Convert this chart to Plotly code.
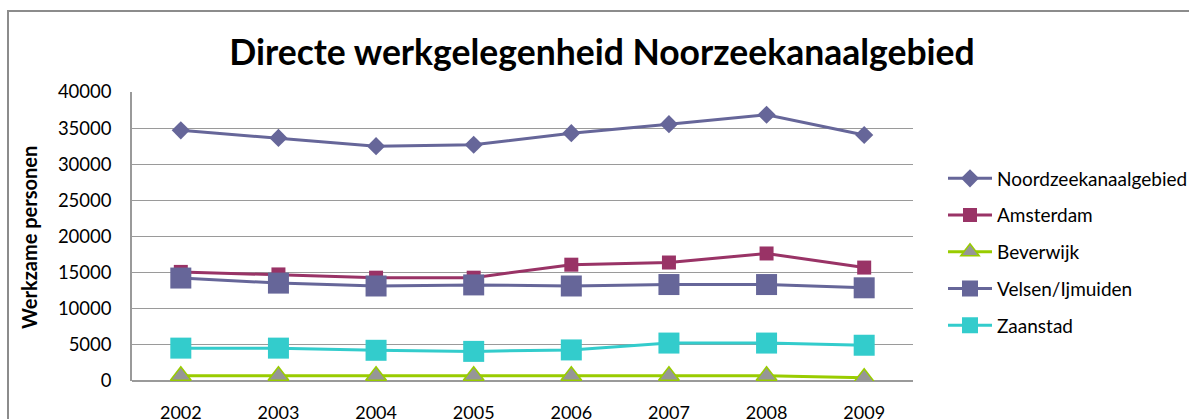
import plotly.graph_objects as go

years = ["2002", "2003", "2004", "2005", "2006", "2007", "2008", "2009"]
noordzee = [34700, 33650, 32500, 32700, 34300, 35550, 36850, 34050]
amsterdam = [15100, 14750, 14300, 14300, 16100, 16400, 17650, 15700]
beverwijk = [720, 720, 720, 720, 720, 720, 720, 460]
velsen = [14250, 13550, 13150, 13300, 13150, 13350, 13350, 12900]
zaanstad = [4550, 4550, 4250, 4100, 4300, 5250, 5250, 4950]
y_ticks = [0, 5000, 10000, 15000, 20000, 25000, 30000, 35000, 40000]

W, H = 1189, 419
L, R, T, B = 132, 913, 92, 381  # plot area in pixels

def px(x):
    return (x - L) / (R - L)

def py(y):
    return (B - y) / (B - T)

FONT = "Lato, 'Open Sans', sans-serif"

fig = go.Figure()
series = [
    ("Noordzeekanaalgebied", noordzee, "#666699", "diamond", 14, "#666699", 0),
    ("Amsterdam", amsterdam, "#993366", "square", 14, "#993366", 0),
    ("Beverwijk", beverwijk, "#99CC00", "triangle-up", 18, "#969696", 1.5),
    ("Velsen/Ijmuiden", velsen, "#666699", "square", 21, "#666699", 0),
    ("Zaanstad", zaanstad, "#33CCCC", "square", 21, "#33CCCC", 0),
]
for name, vals, lc, sym, size, mc, mlw in series:
    fig.add_trace(go.Scatter(
        x=years, y=vals, name=name, mode="lines+markers",
        line=dict(color=lc, width=3),
        marker=dict(symbol=sym, size=size, color=mc,
                    line=dict(color=lc, width=mlw)),
        legendgroup=name,
    ))

fig.update_layout(
    width=W, height=H,
    margin=dict(l=L, r=W - R, t=T, b=H - B, autoexpand=False),
    paper_bgcolor="white", plot_bgcolor="white",
    font=dict(family=FONT, color="#000000", size=18),
    title=dict(text="<b>Directe werkgelegenheid Noorzeekanaalgebied</b>",
               x=602 / W, xanchor="center", xref="container",
               y=1 - 53 / H, yanchor="middle", yref="container",
               font=dict(family=FONT, size=35.5, color="#000000")),
    showlegend=True,
    legend=dict(x=px(943), xanchor="left", y=py(252), yanchor="middle",
                font=dict(family=FONT, size=19, color="#000000"),
                traceorder="grouped", tracegroupgap=9,
                bgcolor="rgba(0,0,0,0)", itemwidth=44),
    xaxis=dict(type="category", showgrid=False, showline=False,
               ticks="", ticklabelstandoff=19,
               tickfont=dict(family=FONT, size=18, color="#000000"),
               range=[-0.5, 7.5], fixedrange=True),
    yaxis=dict(range=[0, 40000], tickvals=y_ticks, ticktext=[str(v) for v in y_ticks],
               showgrid=True, gridcolor="#9A9A9A", gridwidth=1,
               showline=True, linecolor="#9A9A9A", linewidth=1.5,
               zeroline=True, zerolinecolor="#9A9A9A", zerolinewidth=1.5,
               ticks="", ticklabelstandoff=15,
               tickfont=dict(family=FONT, size=18.5, color="#000000")),
    annotations=[dict(text="<b>Werkzame personen</b>", textangle=-90,
                      x=px(29), y=py(238), xref="paper", yref="paper",
                      xanchor="center", yanchor="middle", showarrow=False,
                      font=dict(family=FONT, size=20, color="#000000"))],
    shapes=[dict(type="rect", xref="paper", yref="paper",
                 x0=px(8), x1=px(1200), y0=py(11), y1=py(440),
                 line=dict(color="#8C8C8C", width=2), layer="below")],
)

fig.write_html("out.html",
               config={"displayModeBar": False},
               post_script="document.body.style.margin='0';document.body.style.overflow='hidden';")
